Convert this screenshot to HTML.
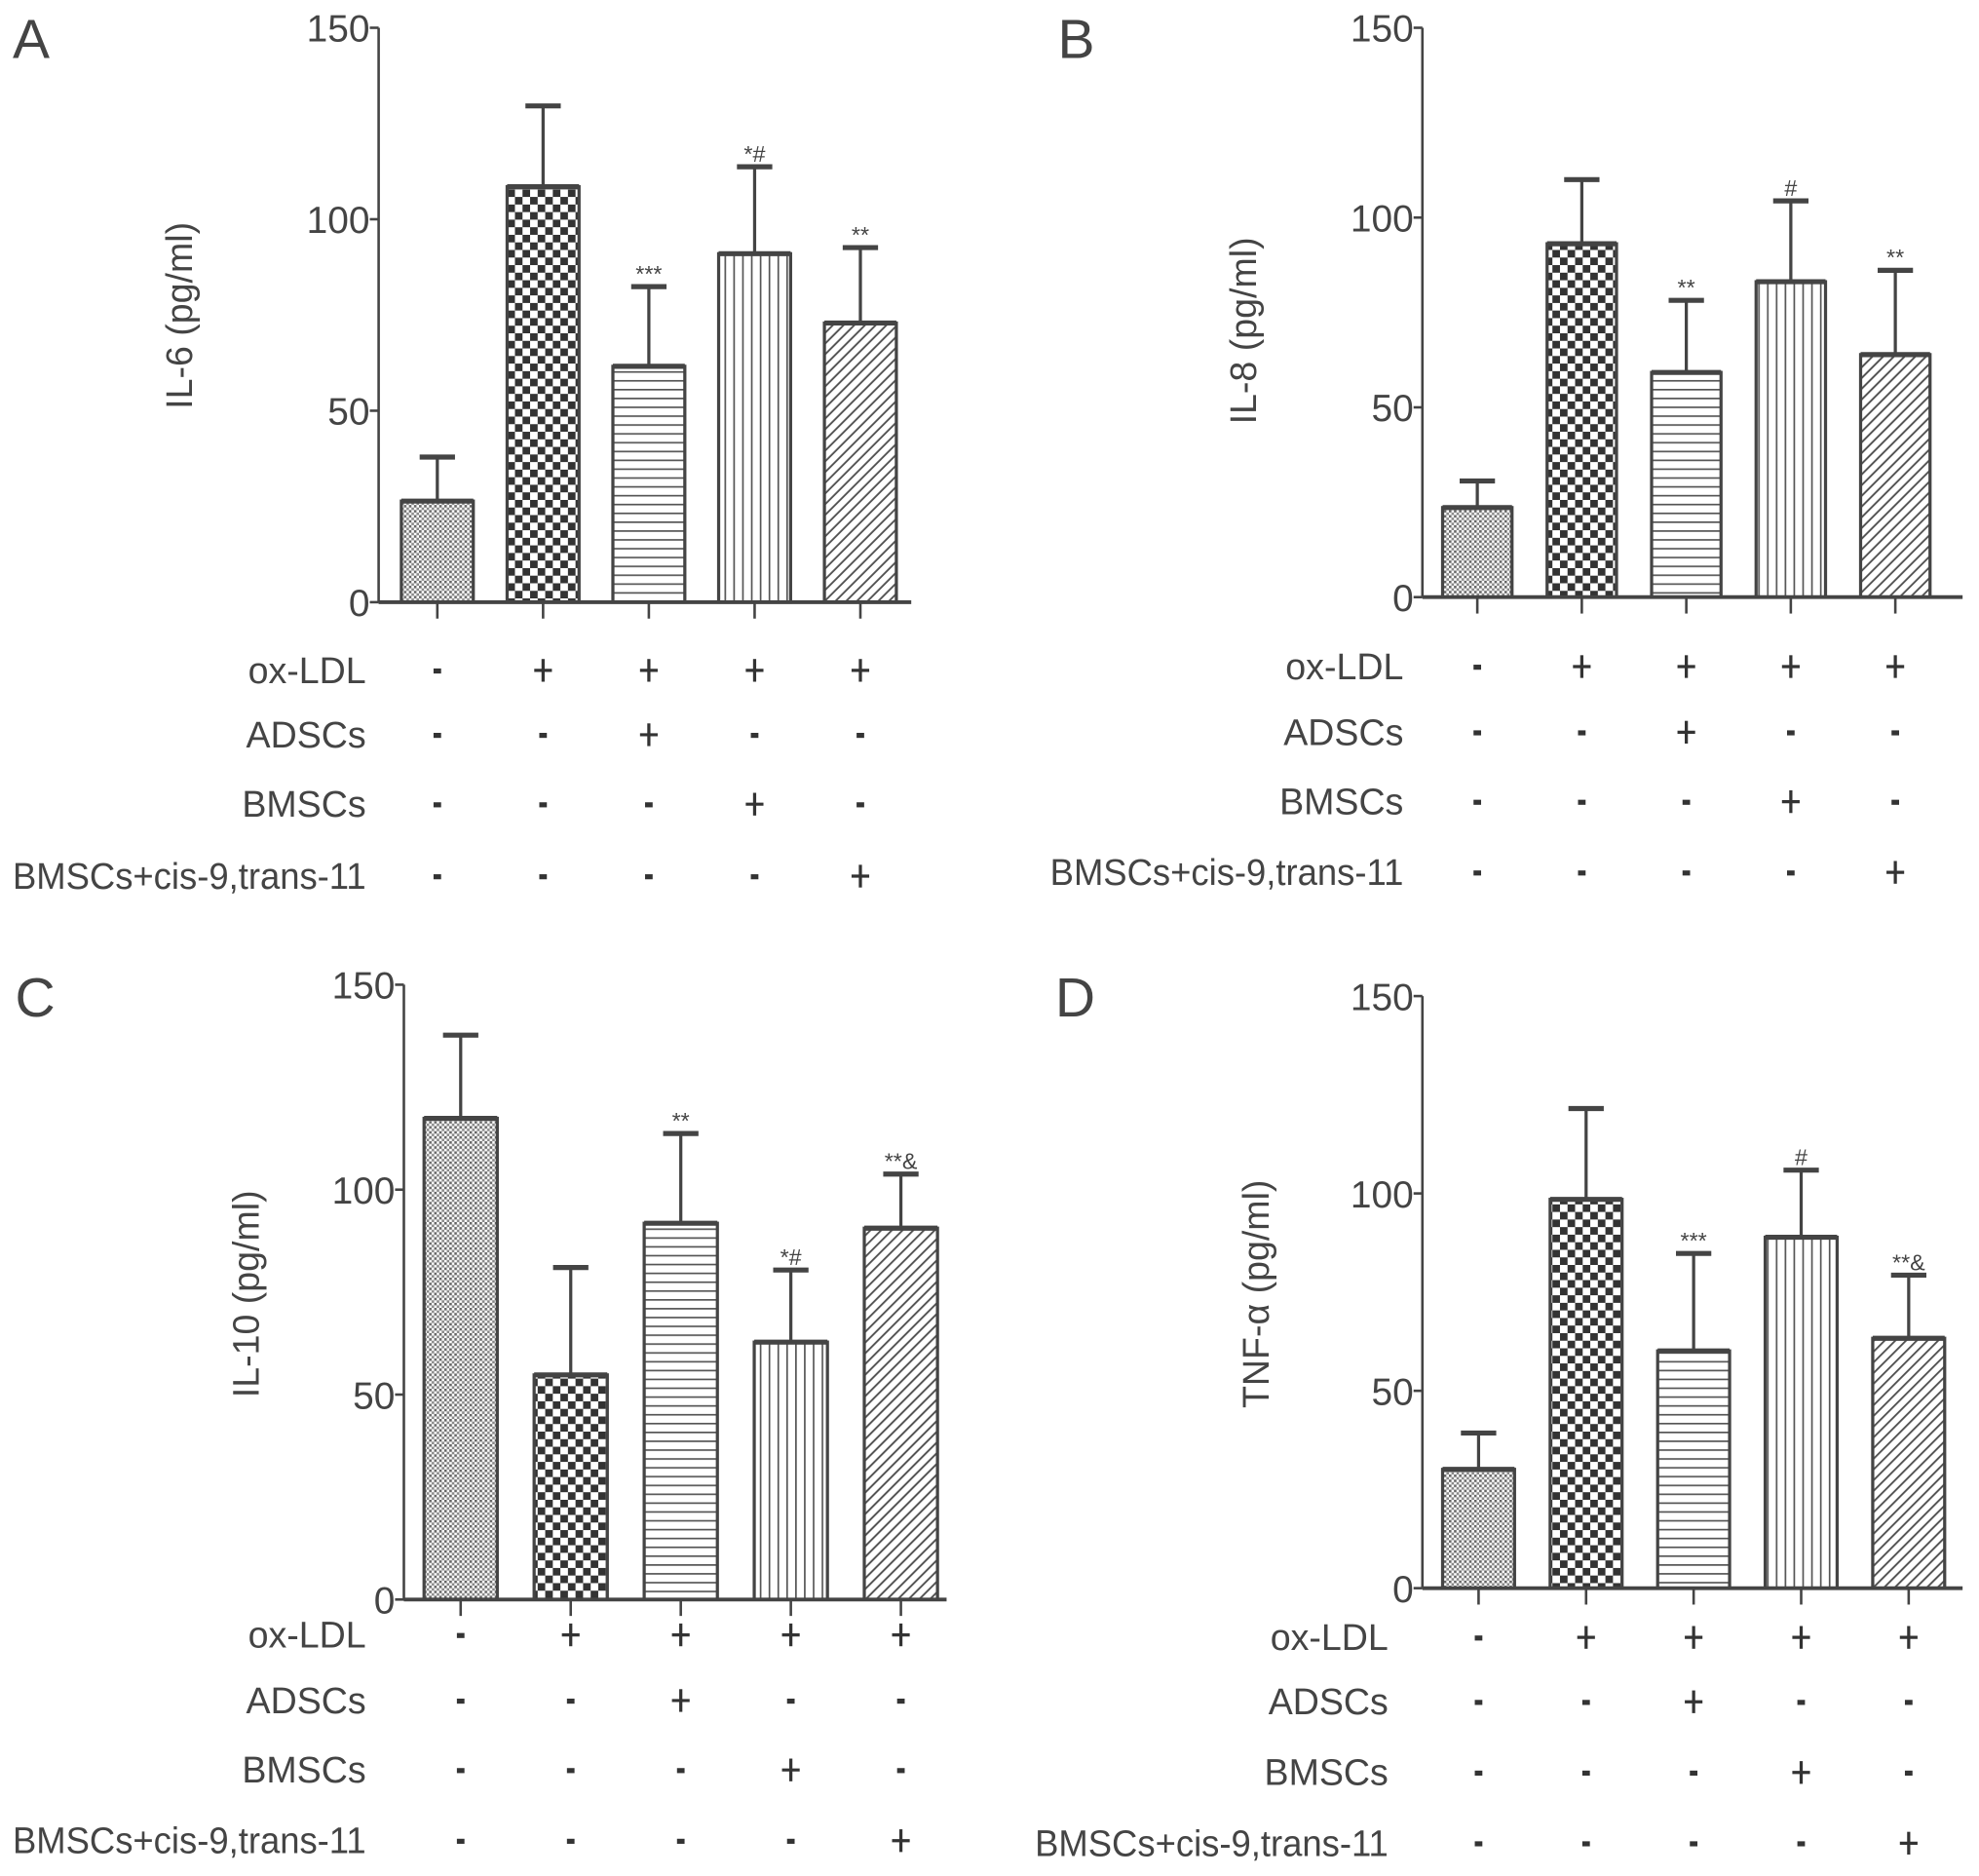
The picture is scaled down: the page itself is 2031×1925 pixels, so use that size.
<!DOCTYPE html>
<html><head><meta charset="utf-8"><style>
html,body{margin:0;padding:0;background:#fff;}
svg{display:block;}
text{font-family:"Liberation Sans",Arial,sans-serif;fill:#444;}
</style></head>
<body>
<svg id="fig" width="2031" height="1925" viewBox="0 0 1568 1486" preserveAspectRatio="none" xmlns="http://www.w3.org/2000/svg">
<defs>
<pattern id="p0" width="4" height="4" patternUnits="userSpaceOnUse"><rect width="4" height="4" fill="#fff"/><rect width="2" height="2" fill="#666"/><rect x="2" y="2" width="2" height="2" fill="#888"/></pattern>
<pattern id="p1" width="12" height="12" patternUnits="userSpaceOnUse"><rect width="12" height="12" fill="#fff"/><rect width="6" height="6" fill="#333"/><rect x="6" y="6" width="6" height="6" fill="#333"/></pattern>
<pattern id="p2" width="10" height="7" patternUnits="userSpaceOnUse"><rect width="10" height="7" fill="#fff"/><rect y="0" width="10" height="1.3" fill="#555"/></pattern>
<pattern id="p3" width="7" height="10" patternUnits="userSpaceOnUse"><rect width="7" height="10" fill="#fff"/><rect x="0" width="1.3" height="10" fill="#555"/></pattern>
<pattern id="p4" width="6" height="6" patternUnits="userSpaceOnUse" patternTransform="rotate(45)"><rect width="6" height="6" fill="#fff"/><rect width="1.5" height="6" fill="#555"/></pattern>
</defs>
</svg>
<script>
// Panel data (values in pg/ml)
const panelLetters = ["A","B","C","D"];
const yTitles = ["IL-6 (pg/ml)","IL-8 (pg/ml)","IL-10 (pg/ml)","TNF-α (pg/ml)"];
const yTicks = [0,50,100,150];
const valuesA = [26.4,108.5,61.6,91.0,72.9];
const errorsA = [37.9,129.6,82.4,113.7,92.6];
const valuesB = [23.6,93.1,59.2,83.1,63.9];
const errorsB = [30.6,110.0,78.2,104.4,86.1];
const valuesC = [117.4,54.8,91.8,62.8,90.6];
const errorsC = [137.7,81.0,113.7,80.4,103.8];
const valuesD = [30.1,98.5,60.1,88.9,63.3];
const errorsD = [39.3,121.5,84.8,105.9,79.3];
const annotA = ["","","***","*#","**"];
const annotB = ["","","**","#","**"];
const annotC = ["","","**","*#","**&"];
const annotD = ["","","***","#","**&"];
const rowLabels = ["ox-LDL","ADSCs","BMSCs","BMSCs+cis-9,trans-11"];
const rowSigns = [["-","+","+","+","+"],["-","-","+","-","-"],["-","-","-","+","-"],["-","-","-","-","+"]];

const layouts = [
 {ax:300,y150:22,y0:477,x0:318,step:83.8,bw:57,axEnd:722,rows:[531,582,637,694],lblR:290,letter:[10,46],title:[152,250]},
 {ax:1127,y150:22,y0:473,x0:1143,step:82.8,bw:55,axEnd:1555,rows:[528,580,635,691],lblR:1112,letter:[838,46],title:[995,262]},
 {ax:320,y150:780,y0:1267,x0:336,step:87.2,bw:58,axEnd:750,rows:[1295,1347,1402,1458],lblR:290,letter:[12,805],title:[205,1025]},
 {ax:1127,y150:789,y0:1258,x0:1143,step:85.2,bw:57,axEnd:1555,rows:[1297,1348,1404,1460],lblR:1100,letter:[836,805],title:[1005,1025]}
];
const allValues=[valuesA,valuesB,valuesC,valuesD];
const allErrors=[errorsA,errorsB,errorsC,errorsD];
const allAnnot=[annotA,annotB,annotC,annotD];

const svg=document.getElementById('fig');
const NS="http://www.w3.org/2000/svg";
function mk(tag,attrs,parent){const e=document.createElementNS(NS,tag);for(const k in attrs)e.setAttribute(k,attrs[k]);(parent||svg).appendChild(e);return e;}

layouts.forEach((L,pi)=>{
  const g=mk('g',{});
  
  
  const yS=v=>L.y0-(v/150)*(L.y0-L.y150);
  const xC=i=>L.x0+i*L.step+L.bw/2;
  const letter=mk('text',{x:L.letter[0],y:L.letter[1],'font-size':44},g);
  letter.textContent=panelLetters[pi];
  
  
  const ya=mk('line',{x1:L.ax,y1:L.y150,x2:L.ax,y2:L.y0,stroke:'#444','stroke-width':2},g);
  
  
  yTicks.forEach(t=>{
    mk('line',{x1:L.ax-7,y1:yS(t),x2:L.ax,y2:yS(t),stroke:'#444','stroke-width':2},g);
    const tl=mk('text',{x:L.ax-7,y:yS(t)+11,'font-size':30,'text-anchor':'end'},g);
    tl.textContent=t;
    
    
  });
  const tt=mk('text',{x:L.title[0],y:L.title[1],'font-size':29,'text-anchor':'middle',transform:`rotate(-90 ${L.title[0]} ${L.title[1]})`},g);
  tt.textContent=yTitles[pi];
  
  
  const vals=allValues[pi],errs=allErrors[pi],ann=allAnnot[pi];
  vals.forEach((v,i)=>{
    const x=L.x0+i*L.step, c=xC(i);
    const eb=mk('line',{x1:c,y1:yS(v),x2:c,y2:yS(errs[i]),stroke:'#444','stroke-width':2.5},g);
    
    
    mk('line',{x1:c-14,y1:yS(errs[i]),x2:c+14,y2:yS(errs[i]),stroke:'#444','stroke-width':4},g);
    const b=mk('rect',{x:x,y:yS(v),width:L.bw,height:L.y0-yS(v),fill:`url(#p${i})`,stroke:'#444','stroke-width':2.5},g);
    
    
    mk('line',{x1:x,y1:yS(v),x2:x+L.bw,y2:yS(v),stroke:'#444','stroke-width':4},g);
    if(ann[i]){
      const a=mk('text',{x:c,y:yS(errs[i])-4,'font-size':18,'text-anchor':'middle'},g);
      a.textContent=ann[i];
      
      
    }
    mk('line',{x1:c,y1:L.y0,x2:c,y2:L.y0+13,stroke:'#444','stroke-width':2},g);
  });
  const xa=mk('line',{x1:L.ax,y1:L.y0,x2:L.axEnd,y2:L.y0,stroke:'#444','stroke-width':3},g);
  
  
  rowLabels.forEach((r,ri)=>{
    const y=L.rows[ri];
    const t=mk('text',{x:L.lblR,y:y+10,'font-size':29,'text-anchor':'end'},g);
    t.textContent=r;
    if(ri===3){t.setAttribute('textLength',280);t.setAttribute('lengthAdjust','spacingAndGlyphs');}
    
    
    rowSigns[ri].forEach((s,i)=>{
      const c=xC(i);
      if(s==='+'){
        mk('line',{x1:c-7,y1:y,x2:c+7,y2:y,stroke:'#333','stroke-width':2.5},g);
        mk('line',{x1:c,y1:y-9,x2:c,y2:y+9,stroke:'#333','stroke-width':2.5},g);
      } else {
        mk('rect',{x:c-3,y:y-1.5,width:6,height:4,fill:'#333'},g);
      }
    });
  });
});
</script>
</body></html>
